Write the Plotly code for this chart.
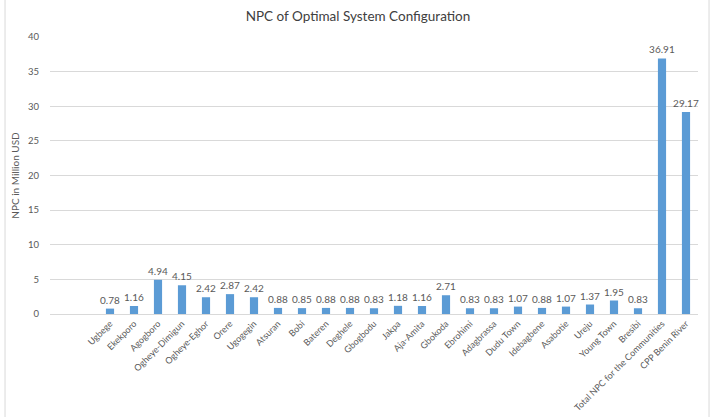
import plotly.graph_objects as go

# Communities and the net present cost of their optimal system (million USD)
communities = [
    "Ugbege", "Ekekporo", "Agogboro", "Ogheye-Dimigun", "Ogheye-Eghor",
    "Orere", "Ugogegin", "Atsuran", "Bobi", "Bateren", "Deghele", "Gbogbodu",
    "Jakpa", "Aja-Amita", "Gbokoda", "Ebrohimi", "Adagbrassa", "Dudu Town",
    "Idebagbene", "Asabotie", "Ureju", "Young Town", "Bresibi",
    "Total NPC for the Communities", "CPP Benin River",
]
npc_values = [
    0.78, 1.16, 4.94, 4.15, 2.42, 2.87, 2.42, 0.88, 0.85, 0.88, 0.88, 0.83,
    1.18, 1.16, 2.71, 0.83, 0.83, 1.07, 0.88, 1.07, 1.37, 1.95, 0.83,
    36.91, 29.17,
]
y_ticks = [0, 5, 10, 15, 20, 25, 30, 35, 40]

positions = list(range(len(communities)))
font_family = "Lato, 'Open Sans', sans-serif"
label_grey = "#595959"

fig = go.Figure(
    go.Bar(
        x=positions,
        y=npc_values,
        width=0.34,
        marker=dict(color="#5b9bd5", line=dict(width=0)),
        text=[f"{v:.2f}" for v in npc_values],
        texttemplate="%{text}",
        textposition="outside",
        constraintext="none",
        textfont=dict(size=10, color=label_grey, family=font_family),
        cliponaxis=False,
    )
)

fig.update_layout(
    width=716,
    height=417,
    margin=dict(l=50, r=18, t=37, b=103, autoexpand=False),
    paper_bgcolor="white",
    plot_bgcolor="white",
    showlegend=False,
    font=dict(family=font_family, color=label_grey),
    title=dict(
        text="NPC of Optimal System Configuration",
        x=0.5,
        xanchor="center",
        y=0.96,
        yanchor="middle",
        font=dict(size=13.5, color="#404040", family=font_family),
    ),
    xaxis=dict(
        range=[-2.5, len(communities) - 0.5],
        tickmode="array",
        tickvals=positions,
        ticktext=communities,
        tickangle=-45,
        tickfont=dict(size=9, color=label_grey),
        showgrid=False,
        showline=True,
        linecolor="#d9d9d9",
        linewidth=1,
        ticks="",
        zeroline=False,
        automargin=False,
    ),
    yaxis=dict(
        range=[0, 40],
        tickvals=y_ticks,
        tickfont=dict(size=9.5, color=label_grey),
        showgrid=True,
        gridcolor="#d9d9d9",
        gridwidth=1,
        zeroline=False,
        showline=False,
        ticks="",
        ticklabelstandoff=10,
        automargin=False,
        title=dict(
            text="NPC in Million USD",
            font=dict(size=10, color=label_grey),
            standoff=6,
        ),
    ),
    shapes=[
        dict(type="line", xref="paper", yref="paper",
             x0=-0.0694, x1=-0.0694, y0=-0.4, y1=1.2,
             line=dict(color="#d9d9d9", width=1)),
        dict(type="line", xref="paper", yref="paper",
             x0=1.017, x1=1.017, y0=-0.4, y1=1.2,
             line=dict(color="#d9d9d9", width=1)),
    ],
)

fig.write_html("out.html")
